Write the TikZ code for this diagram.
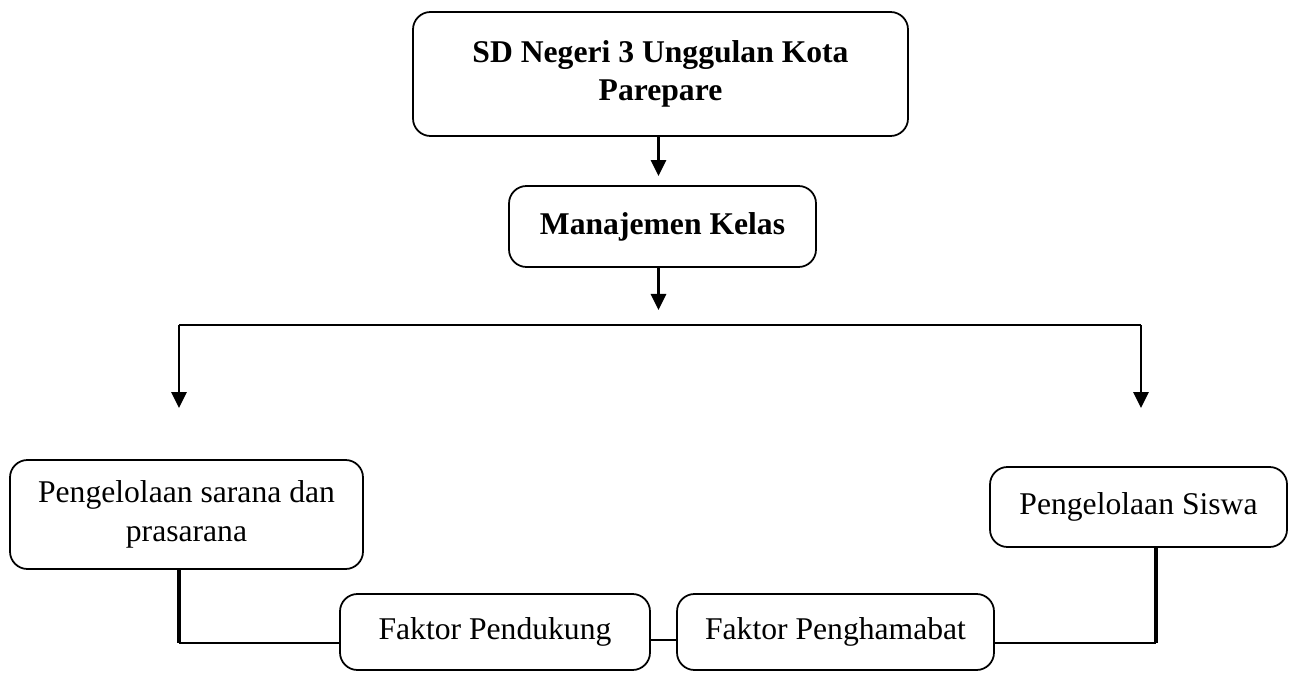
\documentclass[tikz,border=0pt]{standalone}
\usepackage{fontspec}
\setmainfont{Liberation Serif}
\usetikzlibrary{arrows.meta}

\begin{document}
\begin{tikzpicture}[box/.style={draw, line width=1pt, rounded corners=0.35cm, align=center, inner sep=0pt, font=\fontsize{18}{22}\selectfont},
	arr/.style={line width=1.6pt, -{Triangle[length=0.32cm,width=0.3cm]}},
	link/.style={line width=1.1pt},
	stem/.style={line width=2.8pt}]
		\useasboundingbox (0,0) rectangle (25.9,-13.46);
		\node (sd) [box, minimum width=9.9cm, minimum height=2.48cm, font=\fontsize{18}{22}\selectfont\bfseries] at (13.21,-1.48) {SD Negeri 3 Unggulan Kota\\Parepare};
		\node (kelas) [box, minimum width=6.14cm, minimum height=1.62cm, font=\fontsize{18}{22}\selectfont\bfseries] at (13.25,-4.53) {Manajemen Kelas};
		\node (sarana) [box, minimum width=7.06cm, minimum height=2.18cm] at (3.73,-10.29) {Pengelolaan sarana dan\\prasarana};
		\node (siswa) [box, minimum width=5.94cm, minimum height=1.6cm] at (22.77,-10.14) {Pengelolaan Siswa};
		\node (pendukung) [box, minimum width=6.2cm, minimum height=1.52cm] at (9.9,-12.64) {Faktor Pendukung};
		\node (hambat) [box, minimum width=6.34cm, minimum height=1.52cm] at (16.71,-12.64) {Faktor Penghamabat};
		\coordinate (tip) at (13.17,-6.2);
		\coordinate (lsplit) at (3.58,-6.5);
		\coordinate (rsplit) at (22.82,-6.5);
		\coordinate (ltip) at (3.58,-8.16);
		\coordinate (rtip) at (22.82,-8.16);
		\coordinate (lcorner) at (3.58,-12.86);
		\coordinate (rcorner) at (23.12,-12.86);
		\draw [arr, shorten >=0.18cm] (sd.south -| tip) -> (kelas.north -| tip);
		\draw [arr] (kelas.south -| tip) -> (tip);
		\draw [link] (lsplit) -- (rsplit);
		\draw [arr] (lsplit) -> (ltip);
		\draw [arr] (rsplit) -> (rtip);
		\draw [stem] (sarana.south -| lcorner) -- (lcorner);
		\draw [link] (lcorner) -- (lcorner -| pendukung.west);
		\draw [link] ([yshift=-0.16cm]pendukung.east) -- ([yshift=-0.16cm]hambat.west);
		\draw [link] (hambat.east |- rcorner) -- (rcorner);
		\draw [stem] (rcorner) -- (siswa.south -| rcorner);
\end{tikzpicture}
\end{document}
